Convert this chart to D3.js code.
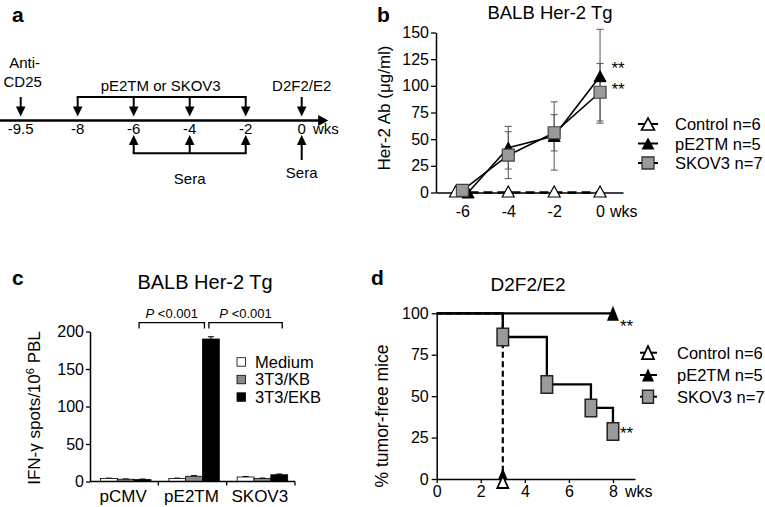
<!DOCTYPE html>
<html><head><meta charset="utf-8">
<script src="https://cdn.jsdelivr.net/npm/d3@7"></script>
<style>
html,body{margin:0;padding:0;background:#fff;}
svg{display:block;font-family:"Liberation Sans",Arial,Helvetica,sans-serif;}
</style></head><body>
<svg id="chart" width="765" height="507"></svg>
<script>
// ---------- Panel a: schedule ----------
const timelineWeeks = [-9.5, -8, -6, -4, -2, 0];
const timelineLabels = ["-9.5", "-8", "-6", "-4", "-2", "0"];
const antiCD25Weeks = [-9.5];
const immunizationWeeks = [-8, -6, -4, -2];
const challengeWeeks = [0];
const seraWeeks = [-6, -4, -2];
const finalSeraWeeks = [0];

// ---------- Panel b: Her-2 Ab ----------
const bWeeks = [-6, -4, -2, 0];
const bWeekLabels = ["-6", "-4", "-2", "0"];
const bControlX = [-6.3, -4, -2, 0];
const bControl = [0, 0, 0, 0];
const bPE2TMX = [-5.75, -4, -2, 0];
const bPE2TM = [0, 42, 53, 109];
const bPE2TMErr = [0, 20, 32, 44];
const bSKOV3X = [-6, -4, -2, 0];
const bSKOV3 = [2, 35, 56, 94];
const bSKOV3Err = [0, 22, 17, 27];
const bYTicks = [0, 25, 50, 75, 100, 125, 150];
const legendLabels = ["Control n=6", "pE2TM n=5", "SKOV3 n=7"];

// ---------- Panel c: IFN-gamma ELISPOT ----------
const cGroups = ["pCMV", "pE2TM", "SKOV3"];
const cStimuli = ["Medium", "3T3/KB", "3T3/EKB"];
const cMedium = [4, 4, 6];
const cKB = [3, 7, 4];
const cEKB = [2.5, 190, 9];
const cMediumErr = [0.5, 0.5, 0.7];
const cKBErr = [0.5, 0.8, 0.6];
const cEKBErr = [0.8, 3, 1];
const cYTicks = [0, 50, 100, 150, 200];
const cComparisons = [["pCMV", "pE2TM"], ["pE2TM", "SKOV3"]];
const cPValues = ["<0.001", "<0.001"];

// ---------- Panel d: tumor-free survival ----------
const dPE2TMTimes = [0, 8];
const dPE2TM = [100, 100];
const dControlTimes = [0, 3];
const dControl = [100, 0];
const dSKOV3Times = [0, 3, 5, 7, 8];
const dSKOV3 = [100, 85.7, 57.1, 42.9, 28.6];
const dYTicks = [0, 25, 50, 75, 100];
const dXTicks = [0, 2, 4, 6, 8];

const svg = d3.select("#chart");
svg.append("rect").attr("width", 765).attr("height", 507).attr("fill", "#fff");
const GRAY = "#9a9a9a";

function tri(w, h) { return `M0,${-h/2}L${w/2},${h/2}L${-w/2},${h/2}Z`; }
function rect(w, h) { return `M${-w/2},${-h/2}h${w}v${h}h${-w}Z`; }
function styleAxis(g, fs) {
  g.select(".domain").attr("stroke", "#000").attr("stroke-width", 1.5);
  g.selectAll(".tick line").attr("stroke", "#000").attr("stroke-width", 1.3);
  g.selectAll(".tick text").attr("fill", "#000").style("font-size", fs + "px")
    .style("font-family", '"Liberation Sans",Arial,sans-serif');
}
function panelLetter(t, x, y) {
  svg.append("text").attr("x", x).attr("y", y).text(t)
    .style("font-size", "21px").style("font-weight", "bold");
}

// ================= Panel a =================
{
  const g = svg.append("g");
  const xa = d3.scaleLinear().domain([-9.5, -8, 0]).range([20.7, 77.7, 301.7]);
  const axisY = 120.5;
  g.append("line").attr("x1", 0).attr("x2", xa(0) + 18).attr("y1", axisY).attr("y2", axisY)
    .attr("stroke", "#000").attr("stroke-width", 2.5);
  g.append("path").attr("transform", `translate(${xa(0) + 26.5},${axisY}) rotate(90)`)
    .attr("d", `M0,0L5.5,10L-5.5,10Z`).attr("fill", "#000");
  g.selectAll("text.tl").data(timelineWeeks).join("text")
    .attr("x", d => xa(d)).attr("y", 133.5).attr("text-anchor", "middle")
    .style("font-size", "15px").text((d, i) => timelineLabels[i]);
  g.append("text").attr("x", 313).attr("y", 133.5).style("font-size", "15px").text("wks");

  const topY = 97, downTip = 116.5;
  const downWeeks = antiCD25Weeks.concat(immunizationWeeks, challengeWeeks);
  downWeeks.forEach(w => {
    g.append("line").attr("x1", xa(w)).attr("x2", xa(w)).attr("y1", topY).attr("y2", downTip - 8)
      .attr("stroke", "#000").attr("stroke-width", 2);
    g.append("path").attr("transform", `translate(${xa(w)},${downTip})`)
      .attr("d", "M0,0L-4.8,-10L4.8,-10Z").attr("fill", "#000");
  });
  g.append("line").attr("x1", xa(d3.min(immunizationWeeks))).attr("x2", xa(d3.max(immunizationWeeks)))
    .attr("y1", topY).attr("y2", topY).attr("stroke", "#000").attr("stroke-width", 2).attr("stroke-linecap", "square");

  const upTip = 135, seraY = 153.3;
  seraWeeks.forEach(w => {
    g.append("line").attr("x1", xa(w)).attr("x2", xa(w)).attr("y1", upTip + 8).attr("y2", seraY)
      .attr("stroke", "#000").attr("stroke-width", 2);
    g.append("path").attr("transform", `translate(${xa(w)},${upTip})`)
      .attr("d", "M0,0L-4.8,10L4.8,10Z").attr("fill", "#000");
  });
  g.append("line").attr("x1", xa(d3.min(seraWeeks))).attr("x2", xa(d3.max(seraWeeks)))
    .attr("y1", seraY).attr("y2", seraY).attr("stroke", "#000").attr("stroke-width", 2).attr("stroke-linecap", "square");
  finalSeraWeeks.forEach(w => {
    g.append("line").attr("x1", xa(w)).attr("x2", xa(w)).attr("y1", upTip + 8).attr("y2", 160)
      .attr("stroke", "#000").attr("stroke-width", 2);
    g.append("path").attr("transform", `translate(${xa(w)},${upTip})`)
      .attr("d", "M0,0L-4.8,10L4.8,10Z").attr("fill", "#000");
  });
  const ts = "15px";
  g.append("text").attr("x", xa(-9.5) + 4).attr("y", 68).attr("text-anchor", "middle").style("font-size", ts).text("Anti-");
  g.append("text").attr("x", xa(-9.5) + 2).attr("y", 87).attr("text-anchor", "middle").style("font-size", ts).text("CD25");
  g.append("text").attr("x", (xa(-8) + xa(-2)) / 2 - 1).attr("y", 91).attr("text-anchor", "middle").style("font-size", ts).text("pE2TM or SKOV3");
  g.append("text").attr("x", xa(0)).attr("y", 91).attr("text-anchor", "middle").style("font-size", ts).text("D2F2/E2");
  g.append("text").attr("x", xa(-4)).attr("y", 184).attr("text-anchor", "middle").style("font-size", ts).text("Sera");
  g.append("text").attr("x", xa(0)).attr("y", 178).attr("text-anchor", "middle").style("font-size", ts).text("Sera");
  panelLetter("a", 12, 22);
}

// ================= Panel b =================
{
  const g = svg.append("g");
  const x = d3.scaleLinear().domain([-7.15, 1.0]).range([436, 623]);
  const y = d3.scaleLinear().domain([0, 150]).range([192.5, 32.5]);
  const ya = g.append("g").attr("transform", `translate(${x(-7.15)},0)`)
    .call(d3.axisLeft(y).tickValues(bYTicks).tickSize(5).tickPadding(2).tickSizeOuter(0));
  styleAxis(ya, 16);
  const xaG = g.append("g").attr("transform", `translate(0,${y(0)})`)
    .call(d3.axisBottom(x).tickValues(bWeeks).tickFormat((d, i) => bWeekLabels[i]).tickSize(0).tickPadding(13).tickSizeOuter(0));
  styleAxis(xaG, 16);
  g.append("text").attr("x", x(0) + 10).attr("y", 217.3).style("font-size", "16px").text("wks");

  g.append("text").attr("transform", "translate(389.5,108) rotate(-90)").attr("text-anchor", "middle")
    .style("font-size", "17px").text("Her-2 Ab (μg/ml)");
  g.append("text").attr("x", 550).attr("y", 18.5).attr("text-anchor", "middle").style("font-size", "18.5px").text("BALB Her-2 Tg");

  function errBars(xs, vals, errs) {
    xs.forEach((xv, i) => {
      if (!errs[i]) return;
      const cx = x(xv), y1 = y(vals[i] + errs[i]), y0 = y(Math.max(0, vals[i] - errs[i]));
      g.append("line").attr("x1", cx).attr("x2", cx).attr("y1", y1).attr("y2", y0).attr("stroke", "#555").attr("stroke-width", 1);
      [y1, y0].forEach(yy => g.append("line").attr("x1", cx - 3.5).attr("x2", cx + 3.5).attr("y1", yy).attr("y2", yy).attr("stroke", "#555").attr("stroke-width", 1));
    });
  }
  errBars(bPE2TMX, bPE2TM, bPE2TMErr);
  errBars(bSKOV3X, bSKOV3, bSKOV3Err);

  const line = d3.line().x(d => x(d[0])).y(d => y(d[1]));
  g.append("path").attr("d", line(d3.zip(bControlX, bControl))).attr("fill", "none")
    .attr("stroke", "#000").attr("stroke-width", 2.5).attr("stroke-dasharray", "9,5");
  g.append("path").attr("d", line(d3.zip(bPE2TMX, bPE2TM))).attr("fill", "none").attr("stroke", "#000").attr("stroke-width", 1.6);
  g.append("path").attr("d", line(d3.zip(bSKOV3X, bSKOV3))).attr("fill", "none").attr("stroke", "#000").attr("stroke-width", 1.6);

  g.selectAll(".cm").data(d3.zip(bControlX, bControl)).join("path")
    .attr("transform", d => `translate(${x(d[0])},${y(d[1]) - 1})`).attr("d", tri(12, 11))
    .attr("fill", "#fff").attr("stroke", "#000").attr("stroke-width", 1.2);
  g.selectAll(".pm").data(d3.zip(bPE2TMX, bPE2TM)).join("path")
    .attr("transform", d => `translate(${x(d[0])},${y(d[1])})`).attr("d", tri(12, 11))
    .attr("fill", "#000").attr("stroke", "#000").attr("stroke-width", 1);
  g.selectAll(".sm").data(d3.zip(bSKOV3X, bSKOV3)).join("path")
    .attr("transform", d => `translate(${x(d[0])},${y(d[1])})`).attr("d", rect(12, 12))
    .attr("fill", GRAY).attr("stroke", "#444").attr("stroke-width", 1.2);

  g.append("text").attr("x", 611.5).attr("y", 74).style("font-size", "17px").text("**");
  g.append("text").attr("x", 611.5).attr("y", 95).style("font-size", "17px").text("**");

  const rows = [124, 143.5, 163];
  rows.forEach((ry, i) => {
    g.append("line").attr("x1", 638).attr("x2", 658).attr("y1", ry).attr("y2", ry).attr("stroke", "#000").attr("stroke-width", 2);
    const p = g.append("path").attr("transform", `translate(648,${ry})`);
    if (i === 0) p.attr("d", tri(13, 12)).attr("fill", "#fff").attr("stroke", "#000").attr("stroke-width", 1.6);
    if (i === 1) p.attr("d", tri(13, 12)).attr("fill", "#000");
    if (i === 2) p.attr("d", rect(12, 12)).attr("fill", GRAY).attr("stroke", "#333").attr("stroke-width", 1.3);
    g.append("text").attr("x", 675).attr("y", ry + 6).style("font-size", "16.5px").text(legendLabels[i]);
  });
  panelLetter("b", 377, 22);
}

// ================= Panel c =================
{
  const g = svg.append("g");
  const y = d3.scaleLinear().domain([0, 200]).range([481.5, 331.5]);
  const x0 = d3.scaleBand().domain(cGroups).range([90, 295]).padding(0);
  const x1 = d3.scaleBand().domain(cStimuli).range([10.5, 61]).padding(0);
  const fills = ["#fff", "#8a8a8a", "#000"];
  const vals = [cMedium, cKB, cEKB];
  const errs = [cMediumErr, cKBErr, cEKBErr];

  const ya = g.append("g").attr("transform", "translate(90,0)")
    .call(d3.axisLeft(y).tickValues(cYTicks).tickSize(4).tickPadding(2).tickSizeOuter(0));
  styleAxis(ya, 16);

  cGroups.forEach((grp, gi) => {
    cStimuli.forEach((s, si) => {
      const bx = x0(grp) + x1(s), v = vals[si][gi], e = errs[si][gi];
      const cx = bx + x1.bandwidth() / 2;
      g.append("line").attr("x1", cx).attr("x2", cx).attr("y1", y(v + e)).attr("y2", y(v)).attr("stroke", "#000").attr("stroke-width", 1);
      g.append("line").attr("x1", cx - 3).attr("x2", cx + 3).attr("y1", y(v + e)).attr("y2", y(v + e)).attr("stroke", "#000").attr("stroke-width", 1);
      g.append("rect").attr("x", bx).attr("y", y(v)).attr("width", x1.bandwidth()).attr("height", y(0) - y(v))
        .attr("fill", fills[si]).attr("stroke", "#000").attr("stroke-width", 0.8);
    });
  });
  g.append("line").attr("x1", 90).attr("x2", 295).attr("y1", y(0)).attr("y2", y(0)).attr("stroke", "#000").attr("stroke-width", 1.5);
  const bounds = cGroups.map(d => x0(d)).concat([x0(cGroups[cGroups.length - 1]) + x0.bandwidth()]);
  bounds.slice(1).forEach(b => g.append("line").attr("x1", b).attr("x2", b).attr("y1", y(0)).attr("y2", y(0) + 4).attr("stroke", "#000").attr("stroke-width", 1.3));
  cGroups.forEach(grp => g.append("text").attr("x", x0(grp) + x0.bandwidth() / 2 - 1).attr("y", 502)
    .attr("text-anchor", "middle").style("font-size", "17px").text(grp));

  const ekbCenter = grp => x0(grp) + x1("3T3/EKB") + x1.bandwidth() / 2;
  const brTop = 322.7, brBot = 328.5;
  cComparisons.forEach((c, i) => {
    const xa = ekbCenter(c[0]) + (i === 0 ? -3.5 : -2), xb = ekbCenter(c[1]) + (i === 0 ? -6.5 : 3);
    g.append("path").attr("d", `M${xa},${brBot}V${brTop}H${xb}V${brBot}`).attr("fill", "none").attr("stroke", "#000").attr("stroke-width", 1.3);
    const t = g.append("text").attr("x", (xa + xb) / 2).attr("y", 318).attr("text-anchor", "middle").style("font-size", "13px");
    t.append("tspan").style("font-style", "italic").text("P");
    t.append("tspan").text(" " + cPValues[i]);
  });

  const rows = [361.7, 379.3, 396.8];
  cStimuli.forEach((s, i) => {
    g.append("rect").attr("x", 237).attr("y", rows[i] - 4).attr("width", 8.5).attr("height", 8.5)
      .attr("fill", fills[i]).attr("stroke", "#000").attr("stroke-width", 0.8);
    g.append("text").attr("x", 255).attr("y", rows[i] + 6).style("font-size", "16.5px").text(s);
  });

  g.append("text").attr("x", 205).attr("y", 289).attr("text-anchor", "middle").style("font-size", "20px").text("BALB Her-2 Tg");
  const yl = g.append("text").attr("transform", "translate(39.5,408) rotate(-90)").attr("text-anchor", "middle").style("font-size", "17px");
  yl.append("tspan").text("IFN-γ spots/10");
  yl.append("tspan").attr("dy", -6).style("font-size", "11px").text("6");
  yl.append("tspan").attr("dy", 6).text(" PBL");
  panelLetter("c", 12, 285);
}

// ================= Panel d =================
{
  const g = svg.append("g");
  const x = d3.scaleLinear().domain([0, 9]).range([436.7, 635]);
  const y = d3.scaleLinear().domain([0, 100]).range([479, 313.3]);
  const ya = g.append("g").attr("transform", `translate(${x(0)},0)`)
    .call(d3.axisLeft(y).tickValues(dYTicks).tickSize(5).tickPadding(3).tickSizeOuter(0));
  styleAxis(ya, 16);
  const xaG = g.append("g").attr("transform", `translate(0,${y(0)})`)
    .call(d3.axisBottom(x).tickValues(dXTicks).tickSize(4).tickPadding(2.5).tickSizeOuter(0));
  styleAxis(xaG, 16);
  g.append("text").attr("x", x(8) + 12).attr("y", 496.5).style("font-size", "16px").text("wks");

  g.append("text").attr("x", 528).attr("y", 291).attr("text-anchor", "middle").style("font-size", "19px").text("D2F2/E2");
  g.append("text").attr("transform", "translate(388,416) rotate(-90)").attr("text-anchor", "middle").style("font-size", "17.5px").text("% tumor-free mice");

  const step = d3.line().x(d => x(d[0])).y(d => y(d[1])).curve(d3.curveStepAfter);
  g.append("path").attr("d", step(d3.zip(dControlTimes, dControl))).attr("fill", "none")
    .attr("stroke", "#000").attr("stroke-width", 2.2).attr("stroke-dasharray", "6,3.5");
  g.append("path").attr("d", step(d3.zip(dPE2TMTimes, dPE2TM))).attr("fill", "none").attr("stroke", "#000").attr("stroke-width", 2.3);
  g.append("path").attr("d", step(d3.zip(dSKOV3Times, dSKOV3))).attr("fill", "none").attr("stroke", "#000").attr("stroke-width", 2.3);

  const cEnd = [dControlTimes[dControlTimes.length - 1], dControl[dControl.length - 1]];
  g.append("path").attr("transform", `translate(${x(cEnd[0])},${y(cEnd[1]) - 5})`).attr("d", tri(10, 12)).attr("fill", "#000");
  g.append("path").attr("transform", `translate(${x(cEnd[0])},${y(cEnd[1]) + 3})`).attr("d", tri(11, 12))
    .attr("fill", "#fff").attr("stroke", "#000").attr("stroke-width", 1.8);
  g.append("path").attr("transform", `translate(${x(dPE2TMTimes[1])},${y(dPE2TM[1])})`).attr("d", tri(12, 15)).attr("fill", "#000");
  g.selectAll(".sq").data(d3.zip(dSKOV3Times, dSKOV3).slice(1)).join("path")
    .attr("transform", d => `translate(${x(d[0])},${y(d[1])})`).attr("d", rect(11.5, 17.5))
    .attr("fill", GRAY).attr("stroke", "#222").attr("stroke-width", 1.5);

  g.append("text").attr("x", 620).attr("y", 332).style("font-size", "17px").text("**");
  g.append("text").attr("x", 620).attr("y", 439).style("font-size", "17px").text("**");

  const rows = [352.7, 375, 396.7];
  rows.forEach((ry, i) => {
    g.append("line").attr("x1", 640).attr("x2", 657).attr("y1", ry).attr("y2", ry).attr("stroke", "#000").attr("stroke-width", 2);
    const p = g.append("path").attr("transform", `translate(648,${ry})`);
    if (i === 0) p.attr("d", tri(12, 13)).attr("fill", "#fff").attr("stroke", "#000").attr("stroke-width", 1.8);
    if (i === 1) p.attr("d", tri(12, 13)).attr("fill", "#000");
    if (i === 2) p.attr("d", rect(11, 13)).attr("fill", GRAY).attr("stroke", "#222").attr("stroke-width", 1.4);
    g.append("text").attr("x", 677).attr("y", ry + 6).style("font-size", "16.5px").text(legendLabels[i]);
  });
  panelLetter("d", 371, 285);
}
</script>
</body></html>
